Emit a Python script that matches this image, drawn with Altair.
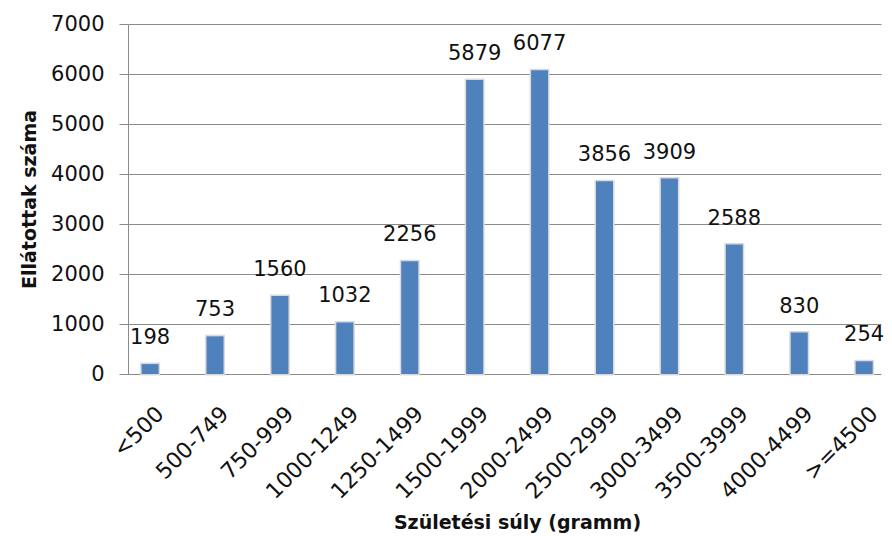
import altair as alt
import pandas as pd

categories = ["<500", "500-749", "750-999", "1000-1249", "1250-1499", "1500-1999",
              "2000-2499", "2500-2999", "3000-3499", "3500-3999", "4000-4499", ">=4500"]
values = [198, 753, 1560, 1032, 2256, 5879, 6077, 3856, 3909, 2588, 830, 254]
y_ticks = [0, 1000, 2000, 3000, 4000, 5000, 6000, 7000]

df = pd.DataFrame({"cat": categories, "val": values})

FONT = "DejaVu Sans"
FS = 21
TFS = 19
x_enc = alt.X("cat:N", sort=categories,
              scale=alt.Scale(paddingInner=0.738, paddingOuter=0.169, align=0.62),
              axis=alt.Axis(title="Születési súly (gramm)", labelAngle=315, labelAlign="right",
                            labelBaseline="middle", labelOffset=10, labelPadding=36,
                            ticks=False, domain=False, grid=False,
                            labelFont=FONT, labelFontSize=FS + 1, labelColor="#111",
                            titleFont=FONT, titleFontSize=TFS, titleFontWeight="bold",
                            titleColor="#111", titleX=389, titleAlign="center",
                            titleY=154, titleBaseline="alphabetic"))
y_enc = alt.Y("val:Q", scale=alt.Scale(domain=[0, 7000], nice=False),
              axis=alt.Axis(title="Ellátottak száma", values=y_ticks, format="d", grid=True,
                            gridColor="#8a8a8a", domainColor="#8a8a8a", tickColor="#8a8a8a",
                            tickSize=9, labelPadding=15, labelFont=FONT, labelFontSize=FS,
                            labelColor="#111", titleFont=FONT, titleFontSize=TFS,
                            titleFontWeight="bold", titleColor="#111", titleX=-93, titleY=175,
                            titleBaseline="alphabetic", titleAngle=270))

base = alt.Chart(df)
shadow = base.mark_bar(color="#e4e4e4", stroke="#dadada", strokeWidth=3).encode(x=x_enc, y=y_enc)
bars = base.mark_bar(color="#4F81BD").encode(x=x_enc, y=y_enc)
labels = base.mark_text(dy=-20, baseline="alphabetic", align="center", font=FONT,
                        fontSize=FS, color="#111").encode(x=x_enc, y=y_enc, text="val:Q")

chart = (shadow + bars + labels).properties(
    width=753, height=350,
    autosize=alt.AutoSizeParams(type="none"),
    padding={"left": 120, "top": 16, "right": 3, "bottom": 160},
).configure_view(stroke=None).configure_axis(labelLimit=0)

chart.save("out.html", embed_options={"renderer": "svg", "actions": False})
